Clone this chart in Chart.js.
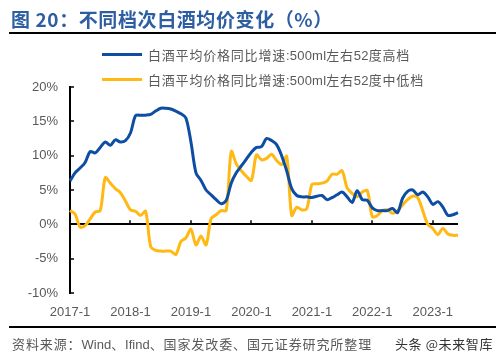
<!DOCTYPE html>
<html><head><meta charset="utf-8">
<script src="https://cdn.jsdelivr.net/npm/chart.js@4"></script>
<style>
body{margin:0;width:496px;height:360px;background:#fff;overflow:hidden;position:relative;font-family:"Noto Sans CJK SC","Liberation Sans",sans-serif;}
#wrap{position:absolute;left:0;top:0;width:496px;height:360px;}
.title{position:absolute;left:11px;top:5px;font-size:19px;font-weight:bold;color:#2e5ea2;white-space:nowrap;letter-spacing:0.6px}
.rule{position:absolute;left:9px;width:487px;height:2px;background:#000}
.leg{position:absolute;left:102px;font-size:13px;color:#595959;display:flex;align-items:center;white-space:nowrap;height:18px;letter-spacing:0.8px}
.leg i{display:inline-block;width:40px;height:3px;margin-right:6px}
.src{position:absolute;left:12px;top:334px;font-size:13px;color:#595959;white-space:nowrap;letter-spacing:0.9px}
.wm{position:absolute;left:395px;top:334px;font-size:13px;color:#333;white-space:nowrap;letter-spacing:0.6px}
</style></head>
<body>
<div id="wrap"><canvas id="c" width="496" height="360"></canvas></div>
<div class="title">图 20：不同档次白酒均价变化（%）</div>
<div class="rule" style="top:32px"></div>
<div id="legend"></div>
<div class="rule" style="top:326px"></div>
<div class="src">资料来源：<span style="font-family:'Liberation Sans';letter-spacing:0">Wind</span>、<span style="font-family:'Liberation Sans';letter-spacing:0">Ifind</span>、国家发改委、国元证券研究所整理</div>
<div class="wm">头条 @未来智库</div>
<script>
const categories = [
'2017-1','2017-2','2017-3','2017-4','2017-5','2017-6','2017-7','2017-8','2017-9','2017-10','2017-11','2017-12',
'2018-1','2018-2','2018-3','2018-4','2018-5','2018-6','2018-7','2018-8','2018-9','2018-10','2018-11','2018-12',
'2019-1','2019-2','2019-3','2019-4','2019-5','2019-6','2019-7','2019-8','2019-9','2019-10','2019-11','2019-12',
'2020-1','2020-2','2020-3','2020-4','2020-5','2020-6','2020-7','2020-8','2020-9','2020-10','2020-11','2020-12',
'2021-1','2021-2','2021-3','2021-4','2021-5','2021-6','2021-7','2021-8','2021-9','2021-10','2021-11','2021-12',
'2022-1','2022-2','2022-3','2022-4','2022-5','2022-6','2022-7','2022-8','2022-9','2022-10','2022-11','2022-12',
'2023-1','2023-2','2023-3','2023-4','2023-5','2023-6'];
const tickLabels = ['2017-1','2018-1','2019-1','2020-1','2021-1','2022-1','2023-1'];
const highEnd = [
6.3,7.5,8.2,9.0,10.6,10.4,11.2,12.0,11.5,12.3,12.0,12.2,
13.3,15.8,15.9,15.9,16.0,16.5,16.9,16.9,16.8,16.5,16.1,15.5,
12.0,7.5,6.4,5.0,4.3,3.6,3.0,3.5,6.0,7.5,8.5,9.5,
10.5,11.2,11.3,12.5,12.2,11.6,10.0,7.8,5.2,4.2,4.0,4.0,
3.9,4.1,4.2,3.6,3.9,4.3,4.7,4.0,3.2,4.9,3.6,3.5,
2.4,2.0,2.0,2.0,2.3,1.7,3.8,4.8,5.0,4.3,4.7,4.0,
2.9,3.3,2.5,1.3,1.4,1.7];
const midLow = [
2.0,1.5,-0.4,-0.2,0.8,1.8,2.0,6.8,6.0,5.2,4.6,3.4,
2.1,1.9,1.3,1.9,-3.2,-3.8,-3.9,-3.9,-3.9,-4.4,-2.5,-2.0,
-0.7,-3.0,-1.7,-3.0,0.8,1.4,2.0,2.0,10.6,8.8,7.8,7.0,
6.4,10.1,9.4,9.6,10.2,9.3,8.7,9.9,1.3,2.5,2.1,2.3,
5.8,5.9,6.0,6.3,7.3,7.3,7.8,5.3,4.5,4.0,4.7,4.9,
1.1,1.3,2.0,2.1,1.6,2.0,2.8,3.6,4.1,3.9,2.0,0.0,
-0.6,-1.5,-0.6,-1.4,-1.6,-1.6];
const seriesNames = ['白酒平均价格同比增速:500ml左右52度高档','白酒平均价格同比增速:500ml左右52度中低档'];
const colors = ['#0d4ea3','#ffb814'];

const legendEl = document.getElementById('legend');
seriesNames.forEach((n,i)=>{
  const d=document.createElement('div');d.className='leg';d.style.top=(45+i*25)+'px';
  d.innerHTML='<i style="background:'+colors[i]+'"></i><span>'+n.replace(/([:0-9ml]+)/g,'<span style="font-family:Liberation Sans;letter-spacing:0.2px">$1</span>')+'</span>';
  legendEl.appendChild(d);
});

const tickPlugin={id:'tm',afterDatasetsDraw(chart){
  const {ctx,scales:{x,y},chartArea}=chart;
  ctx.save();ctx.strokeStyle='#000';ctx.lineWidth=1.5;
  y.ticks.forEach(t=>{const py=Math.round(y.getPixelForValue(t.value));ctx.beginPath();ctx.moveTo(chartArea.left,py);ctx.lineTo(chartArea.left+4,py);ctx.stroke();});
  const y0=y.getPixelForValue(0);
  tickLabels.forEach(l=>{const px=Math.round(x.getPixelForValue(categories.indexOf(l)));ctx.beginPath();ctx.moveTo(px,y0);ctx.lineTo(px,y0-4);ctx.stroke();});
  ctx.restore();
}};

new Chart(document.getElementById('c'),{
  type:'line',
  data:{labels:categories,datasets:[
    {label:seriesNames[0],data:highEnd,borderColor:colors[0],borderWidth:3,pointRadius:0,tension:0.3,fill:false},
    {label:seriesNames[1],data:midLow,borderColor:colors[1],borderWidth:3,pointRadius:0,tension:0.3,fill:false}
  ]},
  options:{responsive:false,animation:false,
    layout:{padding:{left:8,top:87,right:38,bottom:37}},
    plugins:{legend:{display:false},tooltip:{enabled:false}},
    scales:{
      x:{type:'category',grid:{display:false},border:{display:false},
        afterFit(s){s.height=30;},
        ticks:{autoSkip:false,maxRotation:0,minRotation:0,padding:4,color:'#595959',font:{family:'Liberation Sans',size:13},
          callback(v){const l=categories[v];return tickLabels.includes(l)?l:'';}}},
      y:{min:-10,max:20,afterFit(s){s.width=62;},
        border:{display:true,color:'#000',width:2},
        grid:{drawTicks:false,lineWidth:2,color:c=>c.tick&&c.tick.value===0?'#000':'rgba(0,0,0,0)'},
        ticks:{stepSize:5,padding:12,color:'#595959',font:{family:'Liberation Sans',size:13},callback:v=>v+'%'}}
    }
  },
  plugins:[tickPlugin]
});
</script>
</body></html>
